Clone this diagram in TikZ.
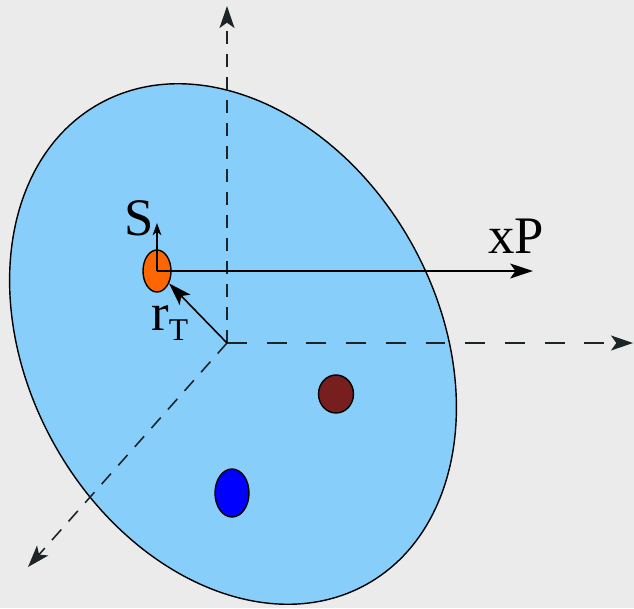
\documentclass[tikz,border=0pt]{standalone}
\usepackage{fontspec}
\setmainfont{Liberation Serif}
\usetikzlibrary{arrows.meta,shapes.geometric}
\definecolor{Paper}{HTML}{EBEBEB}
\definecolor{Disk}{HTML}{87CEFA}
\definecolor{Src}{HTML}{FF6600}
\definecolor{Dark}{HTML}{771E1E}
\definecolor{Deep}{HTML}{0000FF}
\definecolor{Dash}{HTML}{1C2428}
\tikzset{blob/.style={ellipse,draw=black,line width=0.8pt,inner sep=0pt},
  axis/.style={-{Stealth[length=12.5pt,width=8.5pt,inset=3pt]},line width=0.9pt,draw=Dash},
  vec/.style={-{Stealth[length=13pt,width=8.5pt,inset=3pt]},line width=0.9pt},
  tinyvec/.style={-{Stealth[length=7pt,width=5pt,inset=2pt]},line width=0.8pt},
  lbl/.style={inner sep=0pt,font=\fontsize{30}{34}\selectfont}}
\begin{document}
\begin{tikzpicture}[x=0.02cm,y=-0.02cm]
        \useasboundingbox (0,0) rectangle (634,608);
        \fill[Paper] (0,0) rectangle (634,608);
        \node[blob,fill=Disk,minimum width=11cm,minimum height=8.2cm,rotate=-61] (d) at (233,344) {};
        \coordinate (o) at (227,343);
        \coordinate (ye) at (227,6);
        \coordinate (xe) at (633,343);
        \coordinate (ze) at (28,567);
        \draw[axis,dash pattern=on 7.4pt off 5.7pt] (o)--(ye);
        \draw[axis,dash pattern=on 11.3pt off 11.3pt] (o)--(xe);
        \draw[axis,dash pattern=on 8pt off 6.2pt] (o)--(ze);
        \node[blob,fill=Src,minimum width=0.56cm,minimum height=0.84cm] (s) at (157,271) {};
        \node[blob,fill=Dark,minimum width=0.7cm,minimum height=0.76cm] (b) at (336,394) {};
        \node[blob,fill=Deep,minimum width=0.68cm,minimum height=0.96cm] (c) at (232,493) {};
        \coordinate (st) at (157,223);
        \coordinate (pt) at (533,271);
        \draw[tinyvec] (s.center)--(st);
        \draw[vec] (s.center)--(pt);
        \draw[vec] (o)--(s);
        \node[lbl,anchor=base] (sl) at (139.5,235) {S};
        \node[lbl,anchor=base] (pl) at (516,253) {xP};
        \node[lbl,anchor=base west] (rl) at (151,330) {r\raisebox{-6pt}{\fontsize{18}{20}\selectfont T}};
      \end{tikzpicture}
\end{document}
